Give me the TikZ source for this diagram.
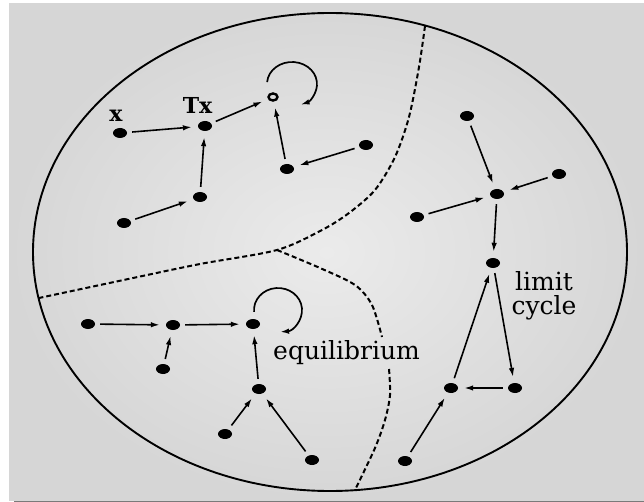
\documentclass[tikz,border=0pt]{standalone}
\usepackage{fontspec}
\setmainfont{DejaVu Serif}
\usetikzlibrary{shapes.geometric,arrows.meta}
\definecolor{bgout}{HTML}{D6D6D6}
\definecolor{bgin}{HTML}{EBEBEB}
\definecolor{barc}{HTML}{7A7A7A}
\begin{document}
\begin{tikzpicture}[x=1pt,y=-1pt,
  dot/.style={ellipse,fill=black,inner sep=0pt,minimum width=14pt,minimum height=10pt},
  opendot/.style={ellipse,draw=black,line width=2.4pt,inner sep=0pt,minimum width=9pt,minimum height=7pt},
  tip/.style={-{Latex[length=9pt,width=5.5pt]}},
  arr/.style={line width=1.6pt,tip,shorten <=5pt,shorten >=6pt},
  loopline/.style={line width=1.7pt,tip},
  sepline/.style={line width=2pt,dash pattern=on 5pt off 3pt},
  lbl/.style={font=\fontsize{25}{24}\selectfont,inner sep=0pt},
  boldlbl/.style={font=\fontsize{22}{24}\selectfont\bfseries,inner sep=0pt}
]
\useasboundingbox (0,0) rectangle (644,502);
\fill[white] (0,0) rectangle (644,502);
\shade[inner color=bgin, outer color=bgout] (9,4) rectangle (644,500.5);
\fill[barc] (14,500.5) rectangle (644,502);

% outer ellipse
\draw[line width=1.9pt] (330,252) ellipse [x radius=297, y radius=239];

% separatrices
\draw[sepline] plot[smooth] coordinates {(425,26) (419,67) (409,117) (395,157) (375,190) (349,213) (322,230) (277,250) (200,264) (133,278) (39,298)};
\draw[sepline] plot[smooth] coordinates {(277,250) (320,268) (355,285) (372,305) (382,337)};
\draw[sepline] plot[smooth] coordinates {(389,369) (390,395) (385,420) (375,448) (355,490)};

% top-left basin
\node[dot] (a1) at (120,133) {};
\node[dot] (a2) at (205,126) {};
\node[opendot] (a3) at (273,97) {};
\node[dot] (a4) at (200,197) {};
\node[dot] (a5) at (124,223) {};
\node[dot] (a6) at (287,169) {};
\node[dot] (a7) at (366,145) {};
\node[boldlbl,anchor=base] (lx) at (116,122) {x};
\node[boldlbl,anchor=base] (ltx) at (197.5,114) {Tx};
\draw[arr] (a1) -- (a2);
\draw[arr] (a4) -- (a2);
\draw[arr] (a5) -- (a4);
\draw[arr] (a2) -- (a3);
\draw[arr] (a6) -- (a3);
\draw[arr] (a7) -- (a6);
\draw[loopline] ([shift={(185:25 and 22)}]292,84) arc[start angle=185,end angle=430,x radius=25,y radius=22];

% top-right
\node[dot] (b1) at (467,116) {};
\node[dot] (b2) at (497,194) {};
\node[dot] (b3) at (559,174) {};
\node[dot] (b4) at (417,217) {};
\draw[arr] (b1) -- (b2);
\draw[arr] (b3) -- (b2);
\draw[arr] (b4) -- (b2);

% limit cycle
\node[dot] (c1) at (493,263) {};
\node[dot] (c2) at (451,388) {};
\node[dot] (c3) at (515,388) {};
\node[dot] (c4) at (405,461) {};
\draw[arr] (b2) -- (c1);
\draw[arr] (c2) -- (c1);
\draw[arr] (c1) -- (c3);
\draw[arr] (c3) -- (c2);
\draw[arr] (c4) -- (c2);
\node[lbl,align=center] (llc) at (544,296) {limit\\cycle};

% bottom-left (equilibrium)
\node[dot] (d1) at (88,324) {};
\node[dot] (d2) at (173,325) {};
\node[dot] (d3) at (253,324) {};
\node[dot] (d4) at (163,369) {};
\node[dot] (d5) at (259,389) {};
\node[dot] (d6) at (225,434) {};
\node[dot] (d7) at (312,460) {};
\draw[arr] (d1) -- (d2);
\draw[arr] (d2) -- (d3);
\draw[arr] (d4) -- (d2);
\draw[arr] (d5) -- (d3);
\draw[arr] (d6) -- (d5);
\draw[arr] (d7) -- (d5);
\draw[loopline] ([shift={(175:24 and 22)}]278,310) arc[start angle=175,end angle=445,x radius=24,y radius=22];
\node[lbl,anchor=base west] (leq) at (273,359) {equilibrium};
\end{tikzpicture}
\end{document}
